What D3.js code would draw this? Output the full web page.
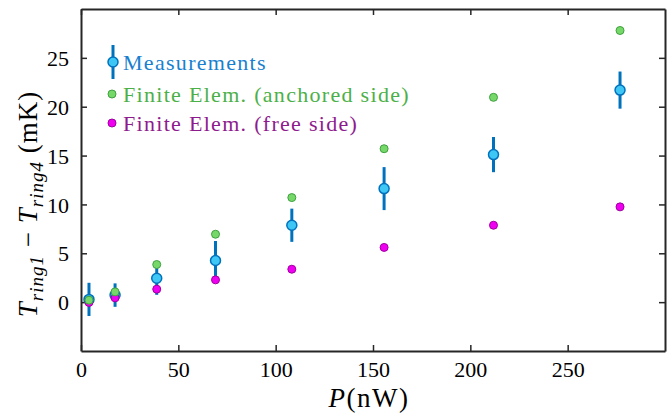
<!DOCTYPE html>
<meta charset="utf-8">
<style>
body { margin: 0; background: #fff; }
.axis path, .axis line { stroke: #262626; }
</style>
<div id="chart"></div>
<script src="https://d3js.org/d3.v7.min.js"></script>
<script>
// power (nW) and temperature differences (mK)
var power = [4.1, 17.5, 38.9, 69.1, 108.3, 155.7, 211.9, 276.9]
var measured = [0.28, 0.72, 2.45, 4.26, 7.87, 11.62, 15.1, 21.7]
var measuredErr = [1.7, 1.2, 1.7, 2.0, 1.7, 2.2, 1.8, 1.9]
var anchored = [0.2, 1.05, 3.85, 6.95, 10.7, 15.7, 20.96, 27.8]
var freeSide = [-0.03, 0.44, 1.33, 2.28, 3.37, 5.6, 7.87, 9.75]

var xTicks = [0, 50, 100, 150, 200, 250]
var yTicks = [0, 5, 10, 15, 20, 25]

var serif = "'Liberation Serif', 'DejaVu Serif', 'Noto Serif', serif"

var margin = { top: 9, left: 81, right: 7, bottom: 64 }
var width = 672 - margin.left - margin.right
var height = 415 - margin.top - margin.bottom

var svg = d3.select('#chart')
  .append('svg')
  .attr('width', 672)
  .attr('height', 415)

var g = svg.append('g')
  .attr('transform', 'translate(' + margin.left + ',' + margin.top + ')')

var xPositionScale = d3.scaleLinear().domain([0, 300]).range([0, width])
var yPositionScale = d3.scaleLinear().domain([-5, 30]).range([height, 0])

// axes with inward ticks, mirrored on top and right
var xAxisG = g.append('g')
  .attr('class', 'axis')
  .attr('transform', 'translate(0,' + height + ')')
  .call(d3.axisBottom(xPositionScale).tickValues(xTicks).tickSize(-6).tickPadding(10).tickSizeOuter(0))
g.append('g')
  .attr('class', 'axis')
  .call(d3.axisTop(xPositionScale).tickValues(xTicks).tickSize(-6).tickFormat('').tickSizeOuter(0))
var yAxisG = g.append('g')
  .attr('class', 'axis')
  .call(d3.axisLeft(yPositionScale).tickValues(yTicks).tickSize(-6).tickPadding(12).tickSizeOuter(0))
g.append('g')
  .attr('class', 'axis')
  .attr('transform', 'translate(' + width + ',0)')
  .call(d3.axisRight(yPositionScale).tickValues(yTicks).tickSize(-6).tickFormat('').tickSizeOuter(0))

g.selectAll('.axis path').attr('stroke-width', 2)
g.selectAll('.axis line').attr('stroke-width', 1.5)
xAxisG.selectAll('text').attr('dy', '0.72em')
yAxisG.selectAll('text').attr('dy', '0.35em')

var blue = '#0072bd'

// measurements with error bars
var meas = power.map((p, i) => ({ x: p, y: measured[i], e: measuredErr[i] }))
g.selectAll('.err')
  .data(meas)
  .enter().append('line')
  .attr('x1', d => xPositionScale(d.x))
  .attr('x2', d => xPositionScale(d.x))
  .attr('y1', d => yPositionScale(d.y - d.e))
  .attr('y2', d => yPositionScale(d.y + d.e))
  .attr('stroke', blue)
  .attr('stroke-width', 3)
g.selectAll('.meas')
  .data(meas)
  .enter().append('circle')
  .attr('cx', d => xPositionScale(d.x))
  .attr('cy', d => yPositionScale(d.y))
  .attr('r', 5)
  .attr('fill', '#3ec6f5')
  .attr('stroke', blue)
  .attr('stroke-width', 1.5)

g.selectAll('.free')
  .data(power.map((p, i) => ({ x: p, y: freeSide[i] })))
  .enter().append('circle')
  .attr('cx', d => xPositionScale(d.x))
  .attr('cy', d => yPositionScale(d.y))
  .attr('r', 4)
  .attr('fill', '#f000f0')
  .attr('stroke', '#a000a0')
  .attr('stroke-width', 1)

g.selectAll('.anch')
  .data(power.map((p, i) => ({ x: p, y: anchored[i] })))
  .enter().append('circle')
  .attr('cx', d => xPositionScale(d.x))
  .attr('cy', d => yPositionScale(d.y))
  .attr('r', 4)
  .attr('fill', '#77d86a')
  .attr('stroke', '#3fa040')
  .attr('stroke-width', 1)

// legend
svg.append('line')
  .attr('x1', 113).attr('x2', 113).attr('y1', 45).attr('y2', 79)
  .attr('stroke', blue).attr('stroke-width', 3)
svg.append('circle')
  .attr('cx', 113).attr('cy', 62).attr('r', 5)
  .attr('fill', '#3ec6f5').attr('stroke', blue).attr('stroke-width', 1.5)
svg.append('text').text('Measurements')
  .attr('x', 123).attr('y', 70).attr('font-size', 22).attr('fill', '#1a7fcf')

svg.append('circle')
  .attr('cx', 112).attr('cy', 94).attr('r', 4)
  .attr('fill', '#77d86a').attr('stroke', '#3fa040')
svg.append('text').text('Finite Elem. (anchored side)')
  .attr('x', 123).attr('y', 102).attr('font-size', 22).attr('fill', '#4cb048')

svg.append('circle')
  .attr('cx', 112).attr('cy', 123).attr('r', 4)
  .attr('fill', '#f000f0').attr('stroke', '#a000a0')
svg.append('text').text('Finite Elem. (free side)')
  .attr('x', 123).attr('y', 131).attr('font-size', 22).attr('fill', '#8e1b8e')

// axis labels
var xl = svg.append('text')
  .attr('x', 369).attr('y', 407)
  .attr('text-anchor', 'middle')
  .attr('font-size', 27)
  .attr('letter-spacing', 1.5)
xl.append('tspan').attr('font-style', 'italic').text('P')
xl.append('tspan').text('(nW)')

var yl = svg.append('text')
  .attr('transform', 'translate(37,204) rotate(-90)')
  .attr('text-anchor', 'middle')
  .attr('font-size', 27)
  .attr('letter-spacing', 1)
yl.append('tspan').attr('font-style', 'italic').text('T')
yl.append('tspan').attr('font-style', 'italic').attr('font-size', 19).attr('dy', 6).text('ring1')
yl.append('tspan').attr('dy', -6).text(' − ')
yl.append('tspan').attr('font-style', 'italic').text('T')
yl.append('tspan').attr('font-style', 'italic').attr('font-size', 19).attr('dy', 6).text('ring4')
yl.append('tspan').attr('dy', -6).text(' (mK)')

svg.selectAll('text').style('font-family', serif)
svg.selectAll('svg > text').attr('letter-spacing', function () {
  return d3.select(this).attr('letter-spacing') || 1.3
})
svg.selectAll('.axis text').style('font-size', '22px').attr('fill', '#000')
</script>
